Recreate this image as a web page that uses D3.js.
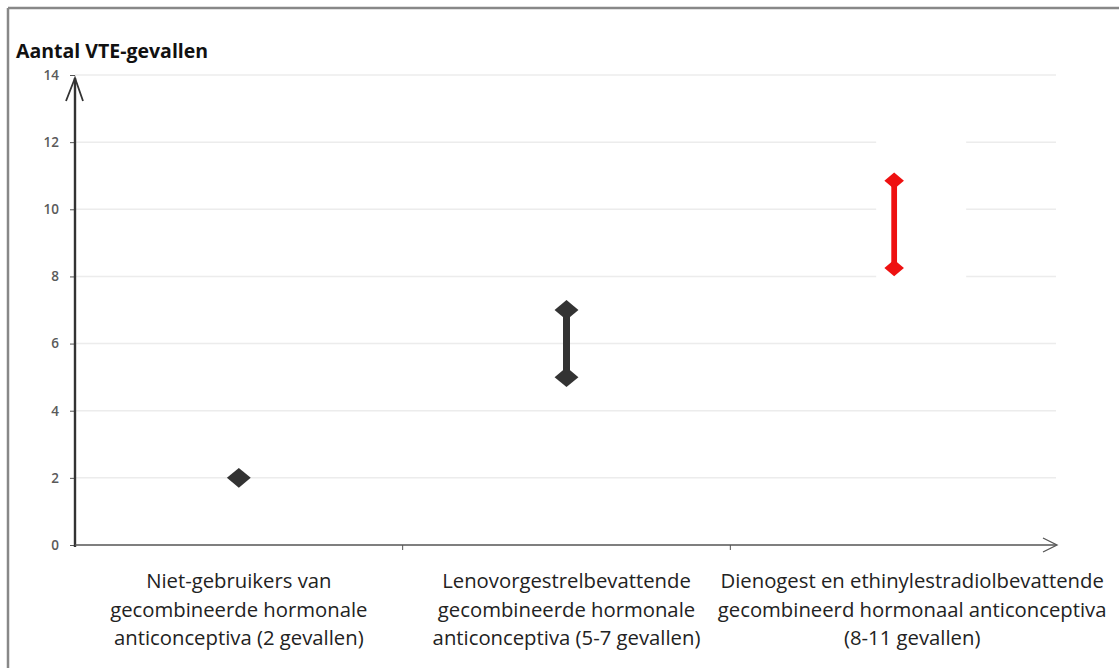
<!DOCTYPE html>
<html>
<head>
<meta charset="utf-8">
<script src="https://cdn.jsdelivr.net/npm/d3@7"></script>
<style>
html,body{margin:0;padding:0;background:#fff;}
svg{display:block;}
</style>
</head>
<body>
<svg id="chart" width="1119" height="668"></svg>
<script>
const categories = [
  ["Niet-gebruikers van", "gecombineerde hormonale", "anticonceptiva (2 gevallen)"],
  ["Lenovorgestrelbevattende", "gecombineerde hormonale", "anticonceptiva (5-7 gevallen)"],
  ["Dienogest en ethinylestradiolbevattende", "gecombineerd hormonaal anticonceptiva", "(8-11 gevallen)"]
];
const lowValues = [2, 5, 8.25];
const highValues = [2, 7, 10.85];
const yTicks = [0, 2, 4, 6, 8, 10, 12, 14];
const yTitle = "Aantal VTE-gevallen";

// styles (kept separate from data)
const colors = ["#333333", "#333333", "#ee1111"];
const markerScale = [1, 1, 0.82];

const svg = d3.select("#chart");
const font = "'Open Sans', 'Liberation Sans', sans-serif";

// frame
svg.append("line").attr("x1", 8).attr("x2", 1119).attr("y1", 8).attr("y2", 8)
  .attr("stroke", "#888").attr("stroke-width", 2.5);
svg.append("line").attr("x1", 8).attr("x2", 8).attr("y1", 8).attr("y2", 668)
  .attr("stroke", "#888").attr("stroke-width", 2.5);

const x0 = 75, x1 = 1058, yTop = 75, yBot = 545;
const x = d3.scaleBand().domain(d3.range(categories.length)).range([x0, x1]);
const y = d3.scaleLinear().domain([0, 14]).range([yBot, yTop]);

// gridlines
svg.append("g").selectAll("line").data(yTicks.filter(d => d > 0)).join("line")
  .attr("x1", x0).attr("x2", 1056)
  .attr("y1", d => y(d)).attr("y2", d => y(d))
  .attr("stroke", "#ececec").attr("stroke-width", 1.5);

// white backing behind third marker
const i3 = 2;
svg.append("rect")
  .attr("x", x(i3) + x.bandwidth() / 2 - 18).attr("width", 90)
  .attr("y", y(12) - 3).attr("height", y(8.25) - y(12) + 20)
  .attr("fill", "#fff");

// y axis
const yAxis = d3.axisLeft(y).tickValues(yTicks).tickSize(5).tickPadding(11).tickFormat(d3.format("d"));
const gy = svg.append("g").attr("transform", `translate(${x0},0)`).call(yAxis);
gy.select(".domain").remove();
gy.selectAll(".tick line").attr("stroke", "#555");
gy.selectAll(".tick text").attr("fill", "#5a5a5a").attr("font-size", 13.5).attr("font-weight", 600)
  .attr("font-family", font);

svg.append("line").attr("x1", x0).attr("x2", x0).attr("y1", yBot + 2).attr("y2", yTop + 3)
  .attr("stroke", "#333").attr("stroke-width", 2.4);
svg.append("path").attr("d", `M${x0 - 9},${yTop + 26} L${x0},${yTop + 3} L${x0 + 8},${yTop + 26}`)
  .attr("fill", "none").attr("stroke", "#333").attr("stroke-width", 1.8);

// x axis
svg.append("line").attr("x1", x0).attr("x2", 1056).attr("y1", yBot).attr("y2", yBot)
  .attr("stroke", "#555").attr("stroke-width", 1.3);
svg.append("path").attr("d", `M1043,${yBot - 7} L1057,${yBot} L1043,${yBot + 7}`)
  .attr("fill", "none").attr("stroke", "#555").attr("stroke-width", 1.3);
svg.append("g").selectAll("line").data(d3.range(1, categories.length)).join("line")
  .attr("x1", d => x(d)).attr("x2", d => x(d)).attr("y1", yBot).attr("y2", yBot + 5)
  .attr("stroke", "#555");

// category labels
const lab = svg.append("g").selectAll("text").data(categories).join("text")
  .attr("text-anchor", "middle")
  .attr("font-family", font).attr("font-size", 20.3).attr("fill", "#222");
lab.each(function(lines, i) {
  d3.select(this).selectAll("tspan").data(lines).join("tspan")
    .attr("x", x(i) + x.bandwidth() / 2 + (i === categories.length - 1 ? 18 : 0))
    .attr("y", (d, j) => 588 + j * 28.5)
    .text(d => d);
});

// title
svg.append("text").attr("x", 16).attr("y", 58).text(yTitle)
  .attr("font-family", font).attr("font-size", 19.5).attr("font-weight", "bold").attr("fill", "#111");

// ranges
const g = svg.append("g");
g.selectAll("line.rng").data(d3.range(categories.length)).join("line")
  .attr("class", "rng")
  .attr("x1", i => x(i) + x.bandwidth() / 2).attr("x2", i => x(i) + x.bandwidth() / 2)
  .attr("y1", i => y(lowValues[i])).attr("y2", i => y(highValues[i]))
  .attr("stroke", (d, i) => colors[i]).attr("stroke-width", (d, i) => 7 * markerScale[i]);

const diamond = d3.symbol().type(d3.symbolDiamond2).size(300);
const pts = [];
d3.range(categories.length).forEach(i => {
  pts.push({i, v: lowValues[i]});
  if (highValues[i] !== lowValues[i]) pts.push({i, v: highValues[i]});
});
g.selectAll("path.pt").data(pts).join("path")
  .attr("class", "pt")
  .attr("d", diamond)
  .attr("transform", d => `translate(${x(d.i) + x.bandwidth() / 2},${y(d.v)}) scale(${1.1 * markerScale[d.i]},${0.92 * markerScale[d.i]})`)
  .attr("fill", d => colors[d.i]);
</script>
</body>
</html>
